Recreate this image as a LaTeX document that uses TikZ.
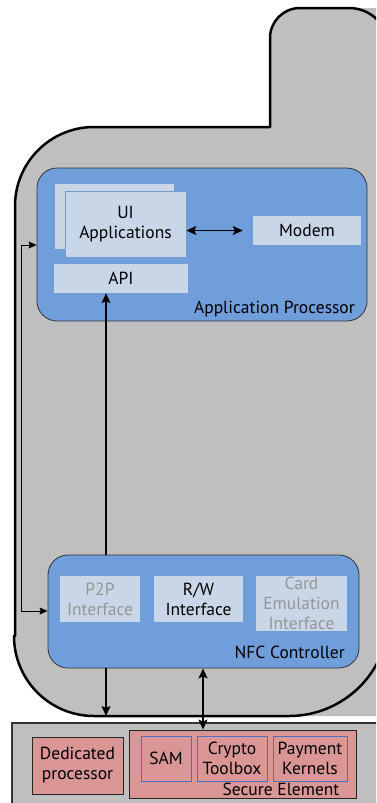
\documentclass[tikz,border=0pt]{standalone}
\usepackage{fontspec}
\setmainfont{PT Sans}
\usetikzlibrary{positioning,calc,arrows.meta}

\definecolor{phonegray}{RGB}{191,191,191}
\definecolor{procblue}{RGB}{111,158,219}
\definecolor{boxfill}{RGB}{200,214,232}
\definecolor{boxedge}{RGB}{120,155,205}
\definecolor{sered}{RGB}{217,150,148}
\definecolor{seblue}{RGB}{68,114,196}
\definecolor{textgray}{RGB}{150,150,150}

\tikzset{
  phone/.style={draw=black, line width=2.5pt, line join=round},
  block/.style={rounded corners=20pt, draw=black!80, fill=procblue, line width=0.8pt, inner sep=0pt},
  appbox/.style={draw=boxedge, fill=boxfill, line width=0.6pt, align=center, inner sep=0pt},
  plainbox/.style={fill=boxfill, align=center, inner sep=0pt},
  redbox/.style={draw=black!85, fill=sered, line width=0.9pt, align=center, inner sep=0pt},
  subbox/.style={draw=seblue, fill=sered, line width=0.9pt, align=center, inner sep=0pt},
  link/.style={line width=1.2pt, -{Stealth[length=10pt,width=9pt,inset=2pt]}},
  dlink/.style={line width=1.2pt, {Stealth[length=10pt,width=9pt,inset=2pt]}-{Stealth[length=10pt,width=9pt,inset=2pt]}},
  slink/.style={line width=1pt, {Stealth[length=8pt,width=7pt,inset=1pt]}-{Stealth[length=8pt,width=7pt,inset=1pt]}},
}

\begin{document}
\begin{tikzpicture}[x=1pt, y=-1pt, font=\fontsize{17.5}{20}\selectfont]
  \useasboundingbox (0,0) rectangle (376,803);
  \clip (0,0) rectangle (376,803);

  % phone body
  \fill[phonegray] (270,126) -- (270,38) arc[start angle=180, end angle=270, radius=30]
    -- (349,8) -- (420,8) -- (420,716) -- (94,716) arc[start angle=90, end angle=180, radius=80]
    -- (15,636) -- (15,206) arc[start angle=180, end angle=270, radius=79]
    -- cycle;
  \draw[phone] (389,616) arc[start angle=0, end angle=90, radius=100]
    -- (94,716) arc[start angle=90, end angle=180, radius=80]
    -- (15,636) -- (15,206) arc[start angle=180, end angle=270, radius=79]
    -- (270,127) -- (270,38) arc[start angle=180, end angle=270, radius=30]
    -- (349,8) arc[start angle=270, end angle=360, radius=40];

  % bottom panel
  \draw[draw=black!80, line width=1.5pt, fill=phonegray] (12,723) rectangle (400,820);

  % application processor
  \node[block, minimum width=330pt, minimum height=153pt] (ap) at (202,244.5) {};
  \node[appbox, minimum width=120pt, minimum height=66pt] (uiback) at (114,216) {};
  \node[appbox, minimum width=121pt, minimum height=66pt] (ui) at (125.5,224) {UI\\Applications};
  \node[plainbox, minimum width=108pt, minimum height=29pt] (modem) at (307,230.5) {Modem};
  \node[plainbox, minimum width=134pt, minimum height=29pt] (api) at (121,278.5) {API};
  \node[anchor=base east, inner sep=0pt] (aplabel) at (355,313) {Application Processor};

  % NFC controller
  \node[block, minimum width=311pt, minimum height=113pt] (nfc) at (203.5,611.5) {};
  \node[plainbox, text=textgray, minimum width=80pt, minimum height=46pt] (p2p) at (100,599) {P2P\\Interface};
  \node[plainbox, minimum width=89pt, minimum height=46pt] (rw) at (198.5,599) {R/W\\Interface};
  \node[plainbox, text=textgray, minimum width=91pt, minimum height=55pt] (card) at (301.5,603.5) {Card\\Emulation\\Interface};
  \node[anchor=base east, inner sep=0pt] (nfclabel) at (345,658) {NFC Controller};

  % secure element
  \node[redbox, minimum width=91pt, minimum height=57pt] (dedicated) at (77.5,765.5) {Dedicated\\processor};
  \node[redbox, minimum width=227pt, minimum height=68pt] (se) at (242.5,764) {};
  \node[subbox, minimum width=50pt, minimum height=45pt] (sam) at (166,758.5) {SAM};
  \node[subbox, minimum width=70pt, minimum height=45pt] (crypto) at (232,758.5) {Crypto\\Toolbox};
  \node[subbox, minimum width=74pt, minimum height=45pt] (payment) at (310,758.5) {Payment\\Kernels};
  \node[anchor=base, inner sep=0pt] (selabel) at (281,795) {Secure Element};

  % connectors
  \coordinate (bus) at (106,0);
  \coordinate (sebus) at (203,0);
  \coordinate (phonebottom) at (106,716);
  \draw[dlink] (ui.east |- modem.west) -- ([xshift=-10pt]modem.west);
  \draw[link] (bus |- nfc.north) -- (bus |- api.south);
  \draw[link] (bus |- nfc.south) -- (phonebottom);
  \draw[dlink] (sebus |- nfc.south) -- (sebus |- se.north);
  \draw[slink] (ap.west |- 0,245) -- ++(-15,0) |- (nfc.west |- 0,611);
\end{tikzpicture}
\end{document}
